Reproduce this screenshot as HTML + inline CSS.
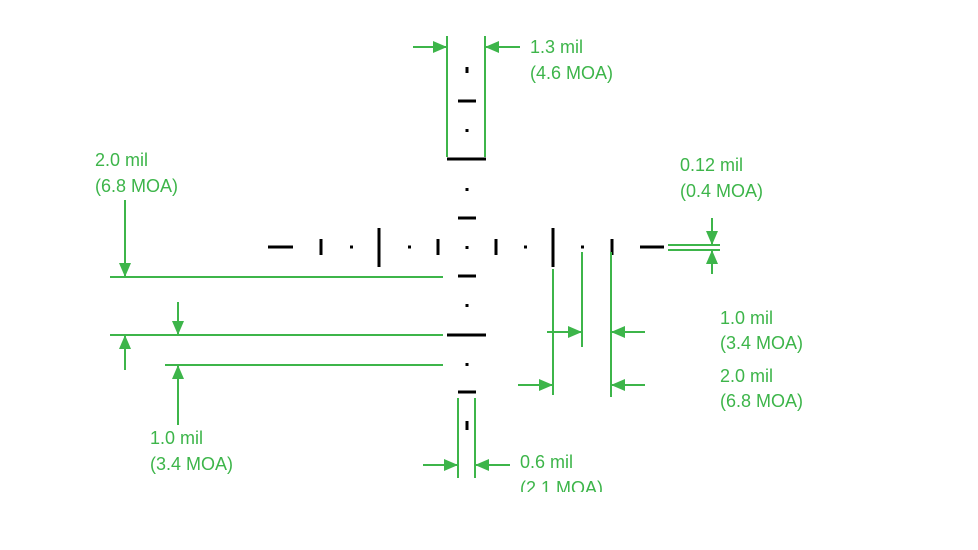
<!DOCTYPE html>
<html><head><style>body{margin:0;background:#fff}svg{display:block}</style></head><body>
<svg width="978" height="550" viewBox="0 0 978 550" xmlns="http://www.w3.org/2000/svg">
<defs>
<marker id="a" markerWidth="14" markerHeight="12" refX="13" refY="6" orient="auto" markerUnits="userSpaceOnUse"><path d="M0,0 L14,6 L0,12 Z" fill="#3db54a"/></marker>
</defs>
<g stroke="#000" stroke-width="3">
<line x1="467" y1="67" x2="467" y2="73"/>
<line x1="458" y1="101" x2="476" y2="101"/>
<line x1="467" y1="129" x2="467" y2="132"/>
<line x1="447" y1="159" x2="486" y2="159"/>
<line x1="467" y1="188" x2="467" y2="191"/>
<line x1="458" y1="218" x2="476" y2="218"/>
<line x1="467" y1="246" x2="467" y2="249"/>
<line x1="458" y1="276" x2="476" y2="276"/>
<line x1="467" y1="304" x2="467" y2="307"/>
<line x1="447" y1="335" x2="486" y2="335"/>
<line x1="467" y1="363" x2="467" y2="366"/>
<line x1="458" y1="392" x2="476" y2="392"/>
<line x1="467" y1="421" x2="467" y2="430"/>
<line x1="268" y1="247" x2="293" y2="247"/>
<line x1="321" y1="239" x2="321" y2="255"/>
<line x1="350" y1="247" x2="353" y2="247"/>
<line x1="379" y1="228" x2="379" y2="267"/>
<line x1="408" y1="247" x2="411" y2="247"/>
<line x1="438" y1="239" x2="438" y2="255"/>
<line x1="496" y1="239" x2="496" y2="255"/>
<line x1="524" y1="247" x2="527" y2="247"/>
<line x1="553" y1="228" x2="553" y2="267"/>
<line x1="581" y1="247" x2="584" y2="247"/>
<line x1="612" y1="239" x2="612" y2="255"/>
<line x1="640" y1="247" x2="664" y2="247"/>
</g>
<g stroke="#3db54a" stroke-width="2" fill="none">
<line x1="447" y1="36" x2="447" y2="157"/>
<line x1="485" y1="36" x2="485" y2="157"/>
<line x1="413" y1="47" x2="446" y2="47" marker-end="url(#a)"/>
<line x1="520" y1="47" x2="486" y2="47" marker-end="url(#a)"/>
<line x1="458" y1="398" x2="458" y2="478"/>
<line x1="475" y1="398" x2="475" y2="478"/>
<line x1="423" y1="465" x2="457" y2="465" marker-end="url(#a)"/>
<line x1="510" y1="465" x2="476" y2="465" marker-end="url(#a)"/>
<line x1="668" y1="245" x2="720" y2="245"/>
<line x1="668" y1="250" x2="720" y2="250"/>
<line x1="712" y1="218" x2="712" y2="244" marker-end="url(#a)"/>
<line x1="712" y1="274" x2="712" y2="251" marker-end="url(#a)"/>
<line x1="553" y1="269" x2="553" y2="395"/>
<line x1="582" y1="252" x2="582" y2="347"/>
<line x1="611" y1="252" x2="611" y2="397"/>
<line x1="547" y1="332" x2="581" y2="332" marker-end="url(#a)"/>
<line x1="645" y1="332" x2="612" y2="332" marker-end="url(#a)"/>
<line x1="518" y1="385" x2="552" y2="385" marker-end="url(#a)"/>
<line x1="645" y1="385" x2="612" y2="385" marker-end="url(#a)"/>
<line x1="110" y1="277" x2="443" y2="277"/>
<line x1="110" y1="335" x2="443" y2="335"/>
<line x1="165" y1="365" x2="443" y2="365"/>
<line x1="125" y1="200" x2="125" y2="276" marker-end="url(#a)"/>
<line x1="178" y1="302" x2="178" y2="334" marker-end="url(#a)"/>
<line x1="125" y1="370" x2="125" y2="336" marker-end="url(#a)"/>
<line x1="178" y1="425" x2="178" y2="366" marker-end="url(#a)"/>
</g>
<g fill="#3db54a" font-family="Liberation Sans, sans-serif" font-size="18">
<text x="530" y="53">1.3 mil</text><text x="530" y="79">(4.6 MOA)</text>
<text x="95" y="166">2.0 mil</text><text x="95" y="192">(6.8 MOA)</text>
<text x="680" y="171">0.12 mil</text><text x="680" y="197">(0.4 MOA)</text>
<text x="720" y="324">1.0 mil</text><text x="720" y="349">(3.4 MOA)</text>
<text x="720" y="382">2.0 mil</text><text x="720" y="407">(6.8 MOA)</text>
<text x="150" y="444">1.0 mil</text><text x="150" y="470">(3.4 MOA)</text>
<text x="520" y="468">0.6 mil</text><text x="520" y="494">(2.1 MOA)</text>
</g>
<rect x="0" y="492" width="978" height="58" fill="#fff"/>
</svg>
</body></html>
